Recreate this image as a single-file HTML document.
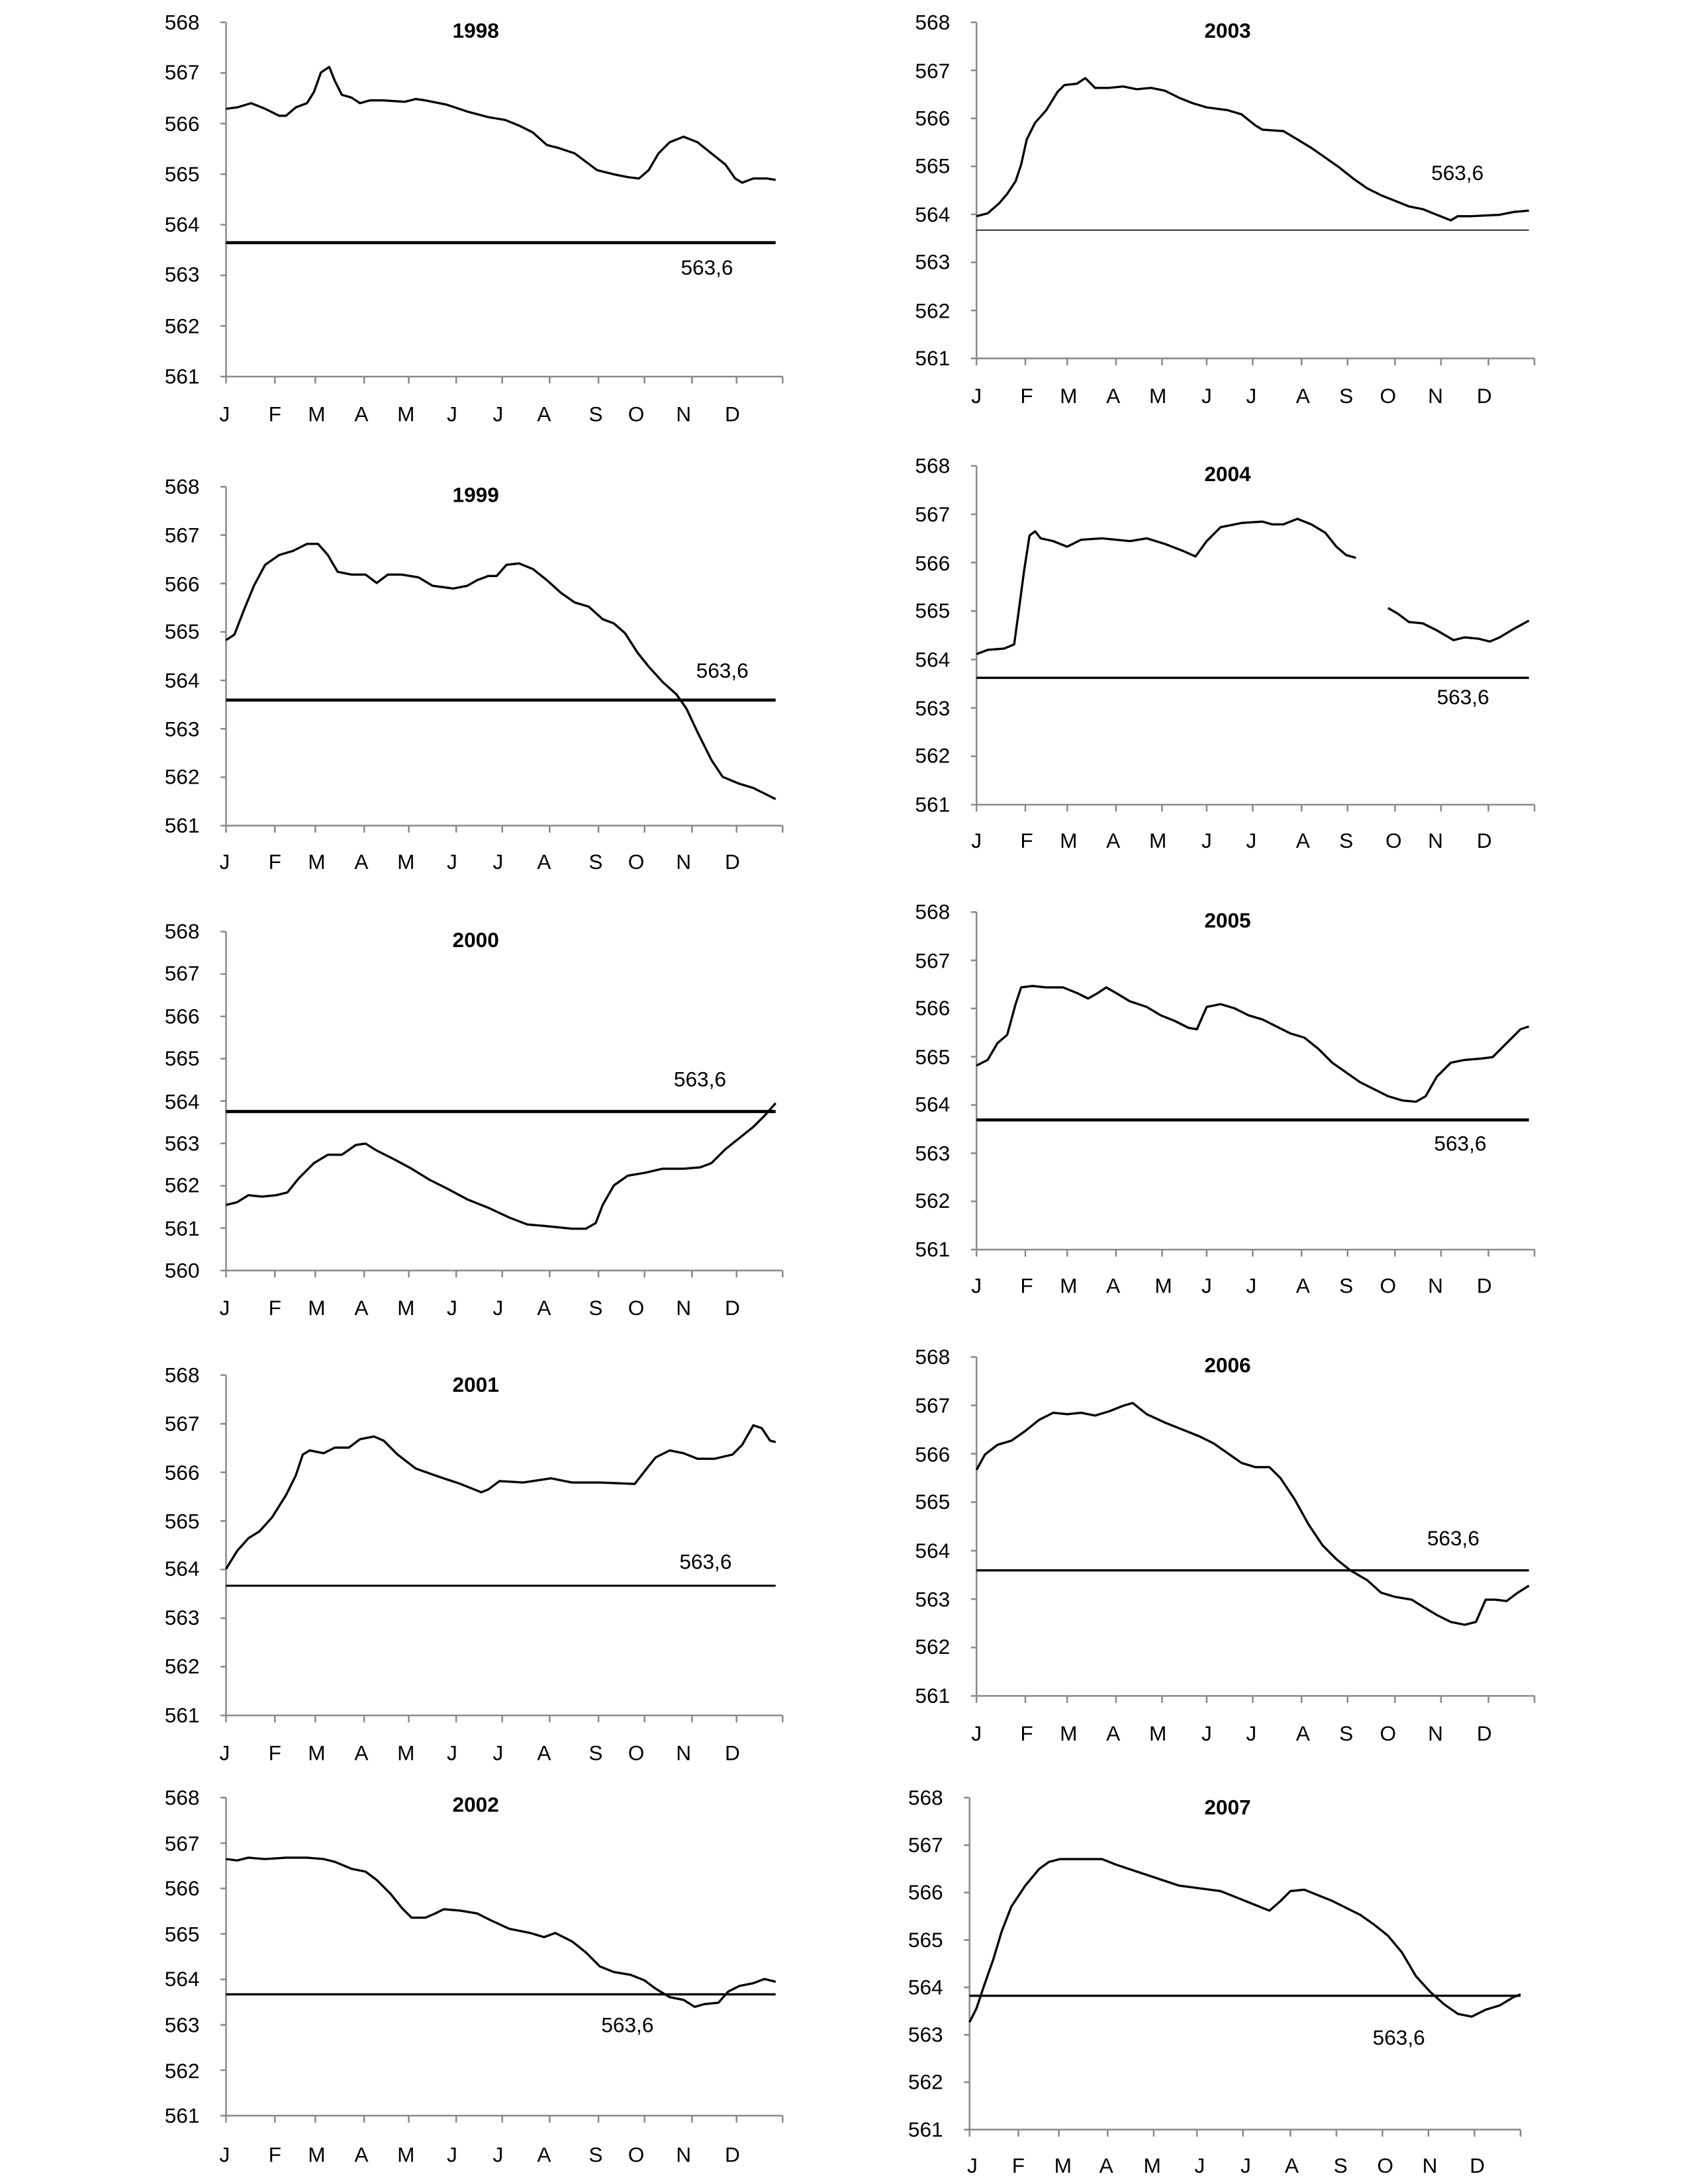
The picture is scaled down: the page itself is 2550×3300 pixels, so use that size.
<!DOCTYPE html>
<html><head><meta charset="utf-8"><style>
html,body{margin:0;padding:0;background:#fff}
svg{display:block}
text{font-family:"Liberation Sans Narrow","Liberation Sans",sans-serif;font-size:15px;fill:#000}
.yl{text-anchor:end}
.t{font-weight:bold;text-anchor:middle}
.ax{stroke:#8a8a8a;stroke-width:1.2;fill:none}
.d{stroke:#000;stroke-width:1.6;fill:none;stroke-linejoin:round}
.r{stroke:#000;fill:none}
</style></head><body>
<svg width="2550" height="3300" viewBox="0 0 1210 1566" xmlns="http://www.w3.org/2000/svg">
<rect width="1210" height="1566" fill="#fff"/>

<!-- ===== 1998 ===== -->
<path class="ax" d="M162,16V270H561M158,16H162M158,52.3H162M158,88.6H162M158,124.9H162M158,161.1H162M158,197.4H162M158,233.7H162M158,270H162M162,270v5M197,270v5M226,270v5M261,270v5M293,270v5M327,270v5M360,270v5M394,270v5M429,270v5M462,270v5M496,270v5M528,270v5M561,270v5"/>
<g class="yl"><text x="143" y="21">568</text><text x="143" y="57">567</text><text x="143" y="94">566</text><text x="143" y="130">565</text><text x="143" y="166">564</text><text x="143" y="202">563</text><text x="143" y="239">562</text><text x="143" y="275">561</text></g>
<text class="t" x="341" y="27">1998</text>
<path class="d" d="M162,78L170,77L180,74L190,78L200,83L205,83L212,77L220,74L225,66L230,52L236,48L240,58L245,68L252,70L258,74L265,72L275,72L290,73L298,71L305,72L320,75L335,80L350,84L362,86L372,90L382,95L392,104L400,106L412,110L420,116L428,122L440,125L450,127L458,128L465,122L472,110L480,102L490,98L500,102L510,110L520,118L527,128L532,131L540,128L550,128L556,129"/>
<path class="r" stroke-width="2.2" d="M162,174H556"/>
<text x="488" y="197">563,6</text>

<!-- ===== 1999 ===== -->
<path class="ax" d="M162,349V592H561M158,349H162M158,383.7H162M158,418.4H162M158,453.1H162M158,487.9H162M158,522.6H162M158,557.3H162M158,592H162M162,592v5M197,592v5M226,592v5M261,592v5M293,592v5M327,592v5M360,592v5M394,592v5M429,592v5M462,592v5M496,592v5M528,592v5M561,592v5"/>
<g class="yl"><text x="143" y="354">568</text><text x="143" y="389">567</text><text x="143" y="424">566</text><text x="143" y="458">565</text><text x="143" y="493">564</text><text x="143" y="528">563</text><text x="143" y="562">562</text><text x="143" y="597">561</text></g>
<text class="t" x="341" y="360">1999</text>
<path class="d" d="M162,459L168,455L175,437L182,420L190,405L200,398L210,395L220,390L228,390L235,398L242,410L252,412L262,412L270,418L278,412L288,412L300,414L310,420L325,422L335,420L342,416L350,413L356,413L363,405L372,404L382,408L392,416L402,425L412,432L422,435L432,444L440,447L448,454L457,468L465,478L475,489L485,498L492,508L500,525L510,545L518,557L530,562L540,565L550,570L556,573"/>
<path class="r" stroke-width="2.2" d="M162,502H556"/>
<text x="499" y="486">563,6</text>

<!-- ===== 2000 ===== -->
<path class="ax" d="M162,668V911H561M158,668H162M158,698.4H162M158,728.8H162M158,759.1H162M158,789.5H162M158,819.9H162M158,850.3H162M158,880.6H162M158,911H162M162,911v5M197,911v5M226,911v5M261,911v5M293,911v5M327,911v5M360,911v5M394,911v5M429,911v5M462,911v5M496,911v5M528,911v5M561,911v5"/>
<g class="yl"><text x="143" y="673">568</text><text x="143" y="703">567</text><text x="143" y="734">566</text><text x="143" y="764">565</text><text x="143" y="795">564</text><text x="143" y="825">563</text><text x="143" y="855">562</text><text x="143" y="886">561</text><text x="143" y="916">560</text></g>
<text class="t" x="341" y="679">2000</text>
<path class="d" d="M162,864L170,862L178,857L188,858L198,857L206,855L214,845L225,834L235,828L245,828L255,821L262,820L270,825L282,831L295,838L308,846L320,852L335,860L350,866L365,873L378,878L390,879L400,880L410,881L420,881L427,877L432,864L440,850L450,843L462,841L475,838L490,838L502,837L510,834L520,824L530,816L540,808L548,800L556,791"/>
<path class="r" stroke-width="2.2" d="M162,797H556"/>
<text x="483" y="779">563,6</text>

<!-- ===== 2001 ===== -->
<path class="ax" d="M162,986V1230H561M158,986H162M158,1020.9H162M158,1055.7H162M158,1090.6H162M158,1125.4H162M158,1160.3H162M158,1195.1H162M158,1230H162M162,1230v5M197,1230v5M226,1230v5M261,1230v5M293,1230v5M327,1230v5M360,1230v5M394,1230v5M429,1230v5M462,1230v5M496,1230v5M528,1230v5M561,1230v5"/>
<g class="yl"><text x="143" y="991">568</text><text x="143" y="1026">567</text><text x="143" y="1061">566</text><text x="143" y="1096">565</text><text x="143" y="1130">564</text><text x="143" y="1165">563</text><text x="143" y="1200">562</text><text x="143" y="1235">561</text></g>
<text class="t" x="341" y="998">2001</text>
<path class="d" d="M162,1125L170,1112L178,1103L186,1098L195,1088L205,1072L212,1058L217,1043L222,1040L232,1042L240,1038L250,1038L258,1032L268,1030L275,1033L285,1043L298,1053L315,1059L330,1064L345,1070L350,1068L358,1062L375,1063L395,1060L410,1063L430,1063L455,1064L462,1055L470,1045L480,1040L490,1042L500,1046L512,1046L525,1043L532,1036L540,1022L546,1024L552,1033L556,1034"/>
<path class="r" stroke-width="1.4" d="M162,1137H556"/>
<text x="487" y="1125">563,6</text>

<!-- ===== 2002 ===== -->
<path class="ax" d="M162,1289V1517H561M158,1289H162M158,1321.6H162M158,1354.1H162M158,1386.7H162M158,1419.3H162M158,1451.9H162M158,1484.4H162M158,1517H162M162,1517v5M197,1517v5M226,1517v5M261,1517v5M293,1517v5M327,1517v5M360,1517v5M394,1517v5M429,1517v5M462,1517v5M496,1517v5M528,1517v5M561,1517v5"/>
<g class="yl"><text x="143" y="1294">568</text><text x="143" y="1327">567</text><text x="143" y="1359">566</text><text x="143" y="1392">565</text><text x="143" y="1424">564</text><text x="143" y="1457">563</text><text x="143" y="1490">562</text><text x="143" y="1522">561</text></g>
<text class="t" x="341" y="1299">2002</text>
<path class="d" d="M162,1333L170,1334L178,1332L190,1333L205,1332L220,1332L232,1333L240,1335L252,1340L262,1342L270,1348L280,1358L288,1368L295,1375L305,1375L312,1372L318,1369L330,1370L342,1372L352,1377L365,1383L380,1386L390,1389L398,1386L410,1392L420,1400L430,1410L440,1414L452,1416L462,1420L470,1426L480,1432L490,1434L498,1439L505,1437L515,1436L522,1428L530,1424L540,1422L548,1419L556,1421"/>
<path class="r" stroke-width="1.6" d="M162,1430H556"/>
<text x="431" y="1457">563,6</text>

<!-- ===== 2003 ===== -->
<path class="ax" d="M700,16V257H1100M696,16H700M696,50.4H700M696,84.9H700M696,119.3H700M696,153.7H700M696,188.1H700M696,222.6H700M696,257H700M700,257v5M735,257v5M765,257v5M800,257v5M833,257v5M865,257v5M898,257v5M933,257v5M966,257v5M1000,257v5M1033,257v5M1067,257v5M1100,257v5"/>
<g class="yl"><text x="681" y="21">568</text><text x="681" y="56">567</text><text x="681" y="90">566</text><text x="681" y="124">565</text><text x="681" y="159">564</text><text x="681" y="193">563</text><text x="681" y="228">562</text><text x="681" y="262">561</text></g>
<text class="t" x="880" y="27">2003</text>
<path class="d" d="M700,155L708,153L716,146L722,139L728,130L732,118L736,100L742,88L750,79L758,66L763,61L772,60L778,56L785,63L795,63L805,62L815,64L825,63L835,65L845,70L855,74L865,77L880,79L890,82L900,90L905,93L920,94L930,100L940,106L950,113L960,120L970,128L980,135L990,140L1000,144L1010,148L1020,150L1030,154L1040,158L1045,155L1055,155L1075,154L1085,152L1096,151"/>
<path class="r" stroke-width="0.8" d="M700,165H1096"/>
<text x="1026" y="129">563,6</text>

<!-- ===== 2004 ===== -->
<path class="ax" d="M700,334V577H1100M696,334H700M696,368.7H700M696,403.4H700M696,438.1H700M696,472.9H700M696,507.6H700M696,542.3H700M696,577H700M700,577v5M735,577v5M765,577v5M800,577v5M833,577v5M865,577v5M898,577v5M933,577v5M966,577v5M1000,577v5M1033,577v5M1067,577v5M1100,577v5"/>
<g class="yl"><text x="681" y="339">568</text><text x="681" y="374">567</text><text x="681" y="409">566</text><text x="681" y="443">565</text><text x="681" y="478">564</text><text x="681" y="513">563</text><text x="681" y="547">562</text><text x="681" y="582">561</text></g>
<text class="t" x="880" y="345">2004</text>
<path class="d" d="M700,469L708,466L720,465L727,462L730,440L734,410L738,384L742,381L746,386L755,388L765,392L775,387L790,386L810,388L822,386L835,390L848,395L857,399L865,388L875,378L890,375L905,374L912,376L920,376L930,372L940,376L950,382L958,392L965,398L972,400M995,436L1002,440L1010,446L1020,447L1030,452L1042,459L1050,457L1060,458L1068,460L1075,457L1085,451L1096,445"/>
<path class="r" stroke-width="1.6" d="M700,486H1096"/>
<text x="1030" y="505">563,6</text>

<!-- ===== 2005 ===== -->
<path class="ax" d="M700,654V896H1100M696,654H700M696,688.6H700M696,723.1H700M696,757.7H700M696,792.3H700M696,826.9H700M696,861.4H700M696,896H700M700,896v5M735,896v5M765,896v5M800,896v5M833,896v5M865,896v5M898,896v5M933,896v5M966,896v5M1000,896v5M1033,896v5M1067,896v5M1100,896v5"/>
<g class="yl"><text x="681" y="659">568</text><text x="681" y="694">567</text><text x="681" y="728">566</text><text x="681" y="763">565</text><text x="681" y="797">564</text><text x="681" y="832">563</text><text x="681" y="866">562</text><text x="681" y="901">561</text></g>
<text class="t" x="880" y="665">2005</text>
<path class="d" d="M700,764L708,760L715,748L722,742L728,720L732,708L740,707L750,708L762,708L772,712L780,716L787,712L793,708L800,712L810,718L822,722L832,728L842,732L852,737L858,738L865,722L875,720L885,723L895,728L905,731L915,736L925,741L935,744L945,752L955,762L965,769L975,776L985,781L995,786L1005,789L1015,790L1022,786L1030,772L1040,762L1050,760L1062,759L1070,758L1080,748L1090,738L1096,736"/>
<path class="r" stroke-width="2.2" d="M700,803H1096"/>
<text x="1028" y="825">563,6</text>

<!-- ===== 2006 ===== -->
<path class="ax" d="M700,973V1216H1100M696,973H700M696,1007.7H700M696,1042.4H700M696,1077.1H700M696,1111.9H700M696,1146.6H700M696,1181.3H700M696,1216H700M700,1216v5M735,1216v5M765,1216v5M800,1216v5M833,1216v5M865,1216v5M898,1216v5M933,1216v5M966,1216v5M1000,1216v5M1033,1216v5M1067,1216v5M1100,1216v5"/>
<g class="yl"><text x="681" y="978">568</text><text x="681" y="1013">567</text><text x="681" y="1048">566</text><text x="681" y="1082">565</text><text x="681" y="1117">564</text><text x="681" y="1152">563</text><text x="681" y="1186">562</text><text x="681" y="1221">561</text></g>
<text class="t" x="880" y="984">2006</text>
<path class="d" d="M700,1054L706,1043L715,1036L725,1033L735,1026L745,1018L755,1013L765,1014L775,1013L785,1015L795,1012L805,1008L812,1006L822,1014L835,1020L850,1026L860,1030L870,1035L880,1042L890,1049L900,1052L910,1052L918,1060L928,1075L938,1093L948,1108L958,1118L968,1126L980,1133L990,1142L1000,1145L1012,1147L1020,1152L1030,1158L1040,1163L1050,1165L1058,1163L1065,1147L1072,1147L1080,1148L1088,1142L1096,1137"/>
<path class="r" stroke-width="1.6" d="M700,1126H1096"/>
<text x="1023" y="1108">563,6</text>

<!-- ===== 2007 ===== -->
<path class="ax" d="M695,1289V1527H1090M691,1289H695M691,1323H695M691,1357H695M691,1391H695M691,1425H695M691,1459H695M691,1493H695M691,1527H695M695,1527v5M730,1527v5M759,1527v5M794,1527v5M827,1527v5M858,1527v5M891,1527v5M925,1527v5M958,1527v5M991,1527v5M1024,1527v5M1057,1527v5M1090,1527v5"/>
<g class="yl"><text x="676" y="1294">568</text><text x="676" y="1328">567</text><text x="676" y="1362">566</text><text x="676" y="1396">565</text><text x="676" y="1430">564</text><text x="676" y="1464">563</text><text x="676" y="1498">562</text><text x="676" y="1532">561</text></g>
<text class="t" x="880" y="1301">2007</text>
<path class="d" d="M695,1450L700,1440L705,1425L712,1405L718,1385L725,1367L735,1352L745,1340L752,1335L760,1333L770,1333L780,1333L790,1333L800,1337L815,1342L830,1347L845,1352L860,1354L875,1356L890,1362L900,1366L910,1370L918,1363L925,1356L935,1355L945,1359L955,1363L965,1368L975,1373L985,1380L995,1388L1005,1400L1015,1417L1025,1428L1035,1437L1045,1444L1055,1446L1065,1441L1075,1438L1085,1432L1090,1430"/>
<path class="r" stroke-width="1.6" d="M695,1431H1090"/>
<text x="984" y="1466">563,6</text>

<!-- month labels left -->
<g text-anchor="middle">
<text x="161" y="302">J</text><text x="197" y="302">F</text><text x="227" y="302">M</text><text x="259" y="302">A</text><text x="291" y="302">M</text><text x="324" y="302">J</text><text x="357" y="302">J</text><text x="390" y="302">A</text><text x="427" y="302">S</text><text x="456" y="302">O</text><text x="490" y="302">N</text><text x="525" y="302">D</text>
<text x="161" y="623">J</text><text x="197" y="623">F</text><text x="227" y="623">M</text><text x="259" y="623">A</text><text x="291" y="623">M</text><text x="324" y="623">J</text><text x="357" y="623">J</text><text x="390" y="623">A</text><text x="427" y="623">S</text><text x="456" y="623">O</text><text x="490" y="623">N</text><text x="525" y="623">D</text>
<text x="161" y="943">J</text><text x="197" y="943">F</text><text x="227" y="943">M</text><text x="259" y="943">A</text><text x="291" y="943">M</text><text x="324" y="943">J</text><text x="357" y="943">J</text><text x="390" y="943">A</text><text x="427" y="943">S</text><text x="456" y="943">O</text><text x="490" y="943">N</text><text x="525" y="943">D</text>
<text x="161" y="1262">J</text><text x="197" y="1262">F</text><text x="227" y="1262">M</text><text x="259" y="1262">A</text><text x="291" y="1262">M</text><text x="324" y="1262">J</text><text x="357" y="1262">J</text><text x="390" y="1262">A</text><text x="427" y="1262">S</text><text x="456" y="1262">O</text><text x="490" y="1262">N</text><text x="525" y="1262">D</text>
<text x="161" y="1550">J</text><text x="197" y="1550">F</text><text x="227" y="1550">M</text><text x="259" y="1550">A</text><text x="291" y="1550">M</text><text x="324" y="1550">J</text><text x="357" y="1550">J</text><text x="390" y="1550">A</text><text x="427" y="1550">S</text><text x="456" y="1550">O</text><text x="490" y="1550">N</text><text x="525" y="1550">D</text>
<!-- right -->
<text x="700" y="289">J</text><text x="736" y="289">F</text><text x="766" y="289">M</text><text x="798" y="289">A</text><text x="830" y="289">M</text><text x="865" y="289">J</text><text x="897" y="289">J</text><text x="934" y="289">A</text><text x="965" y="289">S</text><text x="995" y="289">O</text><text x="1029" y="289">N</text><text x="1064" y="289">D</text>
<text x="700" y="608">J</text><text x="736" y="608">F</text><text x="766" y="608">M</text><text x="798" y="608">A</text><text x="830" y="608">M</text><text x="865" y="608">J</text><text x="897" y="608">J</text><text x="934" y="608">A</text><text x="965" y="608">S</text><text x="999" y="608">O</text><text x="1029" y="608">N</text><text x="1064" y="608">D</text>
<text x="700" y="927">J</text><text x="736" y="927">F</text><text x="766" y="927">M</text><text x="798" y="927">A</text><text x="834" y="927">M</text><text x="865" y="927">J</text><text x="897" y="927">J</text><text x="934" y="927">A</text><text x="965" y="927">S</text><text x="995" y="927">O</text><text x="1029" y="927">N</text><text x="1064" y="927">D</text>
<text x="700" y="1248">J</text><text x="736" y="1248">F</text><text x="766" y="1248">M</text><text x="798" y="1248">A</text><text x="830" y="1248">M</text><text x="865" y="1248">J</text><text x="897" y="1248">J</text><text x="934" y="1248">A</text><text x="965" y="1248">S</text><text x="995" y="1248">O</text><text x="1029" y="1248">N</text><text x="1064" y="1248">D</text>
<text x="697" y="1558">J</text><text x="730" y="1558">F</text><text x="762" y="1558">M</text><text x="793" y="1558">A</text><text x="826" y="1558">M</text><text x="860" y="1558">J</text><text x="893" y="1558">J</text><text x="926" y="1558">A</text><text x="961" y="1558">S</text><text x="993" y="1558">O</text><text x="1025" y="1558">N</text><text x="1059" y="1558">D</text>
</g>
</svg>
</body></html>
